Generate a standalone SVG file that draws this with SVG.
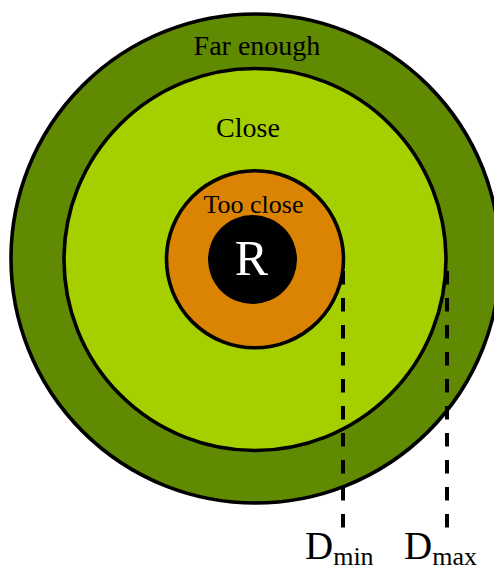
<svg xmlns="http://www.w3.org/2000/svg" width="494" height="570" viewBox="0 0 494 570">
<style>
.ring{stroke:#000;stroke-width:3.6}
.lbl{font-family:"Liberation Serif","Times New Roman",serif;fill:#000}
.dash{stroke:#000;stroke-width:4;stroke-dasharray:13.5 13.5;fill:none}
</style>
<rect width="494" height="570" fill="#fff"/>
<g id="far-enough">
<circle class="ring" cx="255.5" cy="258.5" r="244.5" fill="#5f8a02"/>
<text class="lbl" x="257" y="55" font-size="28" text-anchor="middle">Far enough</text>
</g>
<g id="close">
<circle class="ring" cx="255" cy="259.5" r="191" fill="#a6cf00"/>
<text class="lbl" x="248" y="137" font-size="28" text-anchor="middle">Close</text>
</g>
<g id="too-close">
<circle class="ring" cx="255" cy="259.3" r="88.5" fill="#db8404"/>
<text class="lbl" x="253.5" y="213" font-size="26" text-anchor="middle">Too close</text>
</g>
<g id="robot">
<circle cx="252.5" cy="259.5" r="44.5" fill="#000"/>
<text class="lbl" x="251.5" y="275" font-size="50" text-anchor="middle" style="fill:#fff">R</text>
</g>
<g id="connectors">
<line class="dash" x1="343" y1="271" x2="343" y2="530"/>
<line class="dash" x1="447" y1="271" x2="447" y2="530"/>
</g>
<g id="dmin">
<text class="lbl" x="305" y="559" font-size="39">D<tspan font-size="26" y="565">min</tspan></text>
</g>
<g id="dmax">
<text class="lbl" x="404" y="559" font-size="39">D<tspan font-size="26" y="565">max</tspan></text>
</g>
</svg>
